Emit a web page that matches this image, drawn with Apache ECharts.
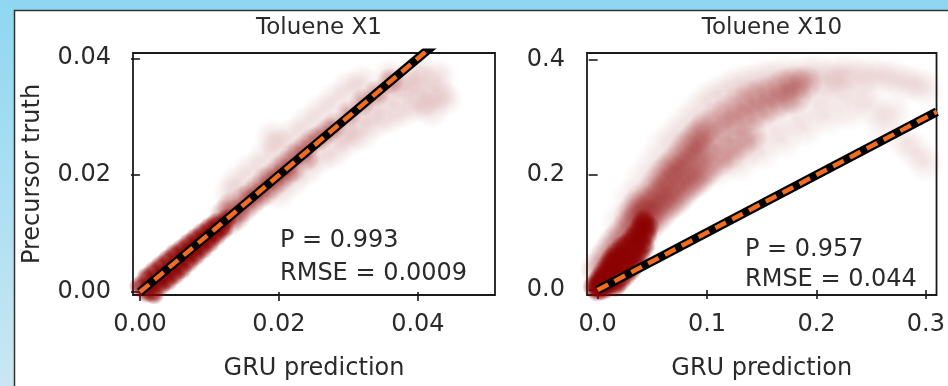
<!DOCTYPE html>
<html>
<head>
<meta charset="utf-8">
<script src="https://cdn.jsdelivr.net/npm/echarts@6/dist/echarts.min.js"></script>
<style>
  html, body { margin: 0; padding: 0; background: #fff; }
  #chart { width: 948px; height: 386px; }
</style>
</head>
<body>
<div id="chart"></div>
<script>
// panel titles and stats
const titles = ['Toluene X1', 'Toluene X10'];
const statP = ['P = 0.993', 'P = 0.957'];
const statRmse = ['RMSE = 0.0009', 'RMSE = 0.044'];

// tick labels
const x1Ticks = [0, 0.02, 0.04];
const y1Ticks = [0, 0.02, 0.04];
const x10Ticks = [0, 0.1, 0.2, 0.3];
const y10Ticks = [0, 0.2, 0.4];

// 1:1 reference lines
const x1Ref = [[0, 0], [0.05, 0.05]];
const x10Ref = [[0, 0], [0.31, 0.31]];

// Toluene X1 point cloud (prediction, truth), by density
const x1Core = [
  [0, -0.001], [0, 0.001], [0.001, 0.0025], [0.001, 0], [0.0015, 0.0012], [0.002, -0.0003],
  [0.002, 0.0035], [0.0025, 0.002], [0.003, 0.0012], [0.003, 0.0045], [0.0035, 0.003],
  [0.004, 0.002], [0.004, 0.0055], [0.0045, 0.004], [0.005, 0.003], [0.005, 0.0065],
  [0.0055, 0.005], [0.006, 0.004], [0.006, 0.0073], [0.0065, 0.0062], [0.007, 0.0052],
  [0.007, 0.0083], [0.0075, 0.0072], [0.008, 0.0063], [0.008, 0.0092], [0.0085, 0.0082],
  [0.009, 0.0074], [0.009, 0.0101], [0.0095, 0.0092], [0.010, 0.0085], [0.010, 0.011],
  [0.0105, 0.0102], [0.011, 0.0097], [0.011, 0.0118], [0.0115, 0.0112], [0.012, 0.0108],
  [0.0125, 0.0125]
];
const x1Mid = [
  [0.012, 0.0135], [0.013, 0.012], [0.013, 0.0148], [0.014, 0.0138], [0.014, 0.0128],
  [0.015, 0.016], [0.015, 0.0142], [0.016, 0.0168], [0.016, 0.0152], [0.017, 0.0178],
  [0.017, 0.0162], [0.018, 0.0192], [0.018, 0.017], [0.019, 0.0198], [0.019, 0.0182],
  [0.020, 0.021], [0.020, 0.0192], [0.021, 0.022], [0.021, 0.0202], [0.022, 0.0232],
  [0.022, 0.021], [0.023, 0.024], [0.024, 0.025], [0.024, 0.023], [0.025, 0.026],
  [0.026, 0.0265], [0.027, 0.0275], [0.028, 0.0285], [0.030, 0.0305], [0.032, 0.0325],
  [0.034, 0.034], [0.036, 0.036]
];
const x1Faint = [
  [0.013, 0.017], [0.014, 0.019], [0.016, 0.021], [0.018, 0.023], [0.019, 0.0265],
  [0.020, 0.025], [0.022, 0.027], [0.024, 0.029], [0.026, 0.031], [0.028, 0.033],
  [0.030, 0.035], [0.032, 0.036], [0.020, 0.017], [0.022, 0.019], [0.024, 0.021],
  [0.026, 0.023], [0.028, 0.024], [0.029, 0.027], [0.030, 0.026], [0.031, 0.029],
  [0.032, 0.027], [0.033, 0.031], [0.034, 0.029], [0.035, 0.033], [0.036, 0.030],
  [0.037, 0.034], [0.038, 0.031], [0.038, 0.036], [0.039, 0.035], [0.040, 0.032],
  [0.040, 0.038], [0.041, 0.036], [0.042, 0.031], [0.043, 0.037], [0.043, 0.034],
  [0.044, 0.033], [0.036, 0.037], [0.041, 0.033]
];

// Toluene X10 point cloud (prediction, truth), by density
const x10Core = [
  [0, 0], [-0.003, 0.006], [0, 0.014], [0.002, 0.008], [0.003, 0.022], [0.004, 0.002],
  [0.005, 0.015], [0.006, 0.032], [0.008, 0.006], [0.008, 0.024], [0.010, 0.012],
  [0.010, 0.044], [0.012, 0.034], [0.013, 0.054], [0.014, 0.020], [0.015, 0.045],
  [0.016, 0.008], [0.017, 0.064], [0.018, 0.030], [0.020, 0.055], [0.020, 0.016],
  [0.022, 0.040], [0.023, 0.075], [0.024, 0.062], [0.025, 0.026], [0.027, 0.050],
  [0.028, 0.080], [0.030, 0.036], [0.031, 0.062], [0.032, 0.090], [0.034, 0.050],
  [0.035, 0.075], [0.036, 0.100], [0.038, 0.062], [0.039, 0.088], [0.040, 0.110],
  [0.042, 0.076], [0.042, 0.120], [0.044, 0.096], [0.046, 0.110]
];
const x10Mid = [
  [0.000, 0.035], [0.005, 0.050], [0.010, 0.065], [0.015, 0.080], [0.020, 0.090],
  [0.025, 0.100], [0.030, 0.112], [0.030, 0.128], [0.035, 0.120], [0.035, 0.142],
  [0.040, 0.090], [0.040, 0.135], [0.040, 0.155],
  [0.045, 0.110], [0.045, 0.130], [0.045, 0.150],
  [0.050, 0.120], [0.050, 0.145], [0.050, 0.170],
  [0.055, 0.130], [0.055, 0.160], [0.055, 0.185],
  [0.060, 0.140], [0.060, 0.170], [0.060, 0.200],
  [0.065, 0.150], [0.065, 0.180], [0.065, 0.210],
  [0.070, 0.155], [0.070, 0.190], [0.070, 0.220],
  [0.075, 0.165], [0.075, 0.200], [0.075, 0.230],
  [0.080, 0.175], [0.080, 0.210], [0.080, 0.245],
  [0.085, 0.185], [0.085, 0.220], [0.085, 0.255],
  [0.090, 0.190], [0.090, 0.230], [0.090, 0.265],
  [0.095, 0.200], [0.095, 0.240], [0.095, 0.275],
  [0.100, 0.210], [0.100, 0.250], [0.100, 0.285],
  [0.110, 0.225], [0.110, 0.265], [0.110, 0.300],
  [0.120, 0.240], [0.120, 0.280], [0.120, 0.310],
  [0.130, 0.255], [0.130, 0.295], [0.130, 0.325],
  [0.140, 0.270], [0.140, 0.305], [0.140, 0.335],
  [0.150, 0.310], [0.150, 0.340], [0.160, 0.320], [0.160, 0.345],
  [0.170, 0.330], [0.170, 0.355], [0.180, 0.335], [0.180, 0.360], [0.190, 0.360]
];
const x10Faint = [
  [0.02, 0.12], [0.03, 0.16], [0.04, 0.19], [0.05, 0.22], [0.06, 0.25], [0.07, 0.27],
  [0.08, 0.29], [0.09, 0.31], [0.10, 0.33], [0.11, 0.34], [0.12, 0.35], [0.13, 0.36],
  [0.14, 0.36], [0.15, 0.37], [0.16, 0.37], [0.17, 0.375], [0.18, 0.37], [0.19, 0.375],
  [0.20, 0.38], [0.21, 0.37], [0.22, 0.375], [0.23, 0.38], [0.24, 0.37], [0.25, 0.375],
  [0.26, 0.37], [0.27, 0.37], [0.28, 0.36], [0.29, 0.36], [0.30, 0.35],
  [0.11, 0.21], [0.12, 0.23], [0.13, 0.22], [0.14, 0.25], [0.15, 0.24], [0.16, 0.28],
  [0.17, 0.26], [0.18, 0.30], [0.19, 0.28], [0.20, 0.32], [0.21, 0.30], [0.22, 0.34],
  [0.23, 0.31], [0.24, 0.34], [0.25, 0.32], [0.26, 0.29], [0.27, 0.31], [0.28, 0.26],
  [0.29, 0.24], [0.30, 0.22], [0.22, 0.36], [0.20, 0.35], [0.18, 0.34]
];

const font = 'DejaVu Sans';
const ink = '#2a2a2a';
const orange = '#f26d1f';

const chart = echarts.init(document.getElementById('chart'));

const xAxis = (min, max, ticks, digits, name) => ({
  type: 'value',
  min, max,
  name,
  nameLocation: 'middle',
  nameGap: 62,
  nameTextStyle: { color: ink, fontSize: 24, fontFamily: font },
  axisLine: { show: false },
  axisTick: { show: true, customValues: ticks, length: 9, lineStyle: { color: '#1a1a1a', width: 1.6 } },
  axisLabel: {
    customValues: ticks, margin: 18, color: ink, fontSize: 24, fontFamily: font,
    formatter: v => v.toFixed(digits)
  },
  splitLine: { show: false }
});

const yAxis = (min, max, ticks, digits, name) => ({
  type: 'value',
  min, max,
  name,
  nameLocation: 'middle',
  nameGap: 88,
  nameTextStyle: { color: ink, fontSize: 24, fontFamily: font },
  axisLine: { show: false },
  axisTick: { show: true, customValues: ticks, length: 9, lineStyle: { color: '#1a1a1a', width: 1.6 } },
  axisLabel: {
    customValues: ticks, margin: 22, color: ink, fontSize: 24, fontFamily: font,
    formatter: v => v.toFixed(digits)
  },
  splitLine: { show: false }
});

// soft dark-red blob, so overlapping points read as a density cloud
const blob = (alpha, solid) => new echarts.graphic.RadialGradient(0.5, 0.5, 0.5, [
  { offset: 0, color: `rgba(139,0,0,${alpha})` },
  { offset: solid, color: `rgba(139,0,0,${alpha * 0.85})` },
  { offset: 1, color: 'rgba(139,0,0,0)' }
]);

const cloud = (data, idx, size, alpha, solid) => ({
  type: 'scatter',
  xAxisIndex: idx, yAxisIndex: idx,
  data,
  symbolSize: size,
  silent: true,
  z: 2,
  itemStyle: { color: blob(alpha, solid) }
});

const refLines = (data, idx) => ([
  {
    type: 'line', xAxisIndex: idx, yAxisIndex: idx, data,
    showSymbol: false, silent: true, z: 5,
    lineStyle: { color: '#000', width: 9 }
  },
  {
    type: 'line', xAxisIndex: idx, yAxisIndex: idx, data,
    showSymbol: false, silent: true, z: 6,
    lineStyle: { color: orange, width: 4.5, type: [12, 7] }
  }
]);

const statText = (x, y, text) => ({
  type: 'text', x, y,
  style: { text, font: '24px "DejaVu Sans"', fill: ink, verticalAlign: 'middle' }
});

const option = {
  backgroundColor: '#ffffff',
  animation: false,
  title: [
    { text: titles[0], left: 314, top: 12, textAlign: 'center',
      textStyle: { color: ink, fontSize: 23, fontWeight: 'normal', fontFamily: font } },
    { text: titles[1], left: 767, top: 12, textAlign: 'center',
      textStyle: { color: ink, fontSize: 23, fontWeight: 'normal', fontFamily: font } }
  ],
  grid: [
    { left: 133, top: 53, width: 362, height: 242, show: true, borderColor: '#1a1a1a', borderWidth: 1.8, backgroundColor: 'transparent' },
    { left: 587, top: 53, width: 360, height: 242, show: true, borderColor: '#1a1a1a', borderWidth: 1.8, backgroundColor: 'transparent' }
  ],
  xAxis: [
    Object.assign(xAxis(-0.001, 0.0511, x1Ticks, 2, 'GRU prediction'), { gridIndex: 0 }),
    Object.assign(xAxis(-0.0097, 0.3097, x10Ticks, 1, 'GRU prediction'), { gridIndex: 1 })
  ],
  yAxis: [
    Object.assign(yAxis(-0.0005, 0.0409, y1Ticks, 2, 'Precursor truth'), { gridIndex: 0 }),
    Object.assign(yAxis(-0.0087, 0.412, y10Ticks, 1, ''), { gridIndex: 1 })
  ],
  graphic: [
    // slide background showing round the figure
    {
      type: 'rect', shape: { x: 0, y: 0, width: 948, height: 10 }, silent: true,
      style: { fill: '#8fd7f1' }
    },
    {
      type: 'rect', shape: { x: 0, y: 0, width: 14, height: 386 }, silent: true,
      style: {
        fill: new echarts.graphic.LinearGradient(0, 0, 0, 1, [
          { offset: 0, color: '#8fd7f1' },
          { offset: 1, color: '#c9e7f2' }
        ])
      }
    },
    {
      type: 'polyline', shape: { points: [[14.5, 386], [14.5, 10.5], [948, 10.5]] }, silent: true,
      style: { stroke: '#333', lineWidth: 1.5, fill: null }
    },
    statText(280, 241, statP[0]),
    statText(280, 274, statRmse[0]),
    statText(745, 250, statP[1]),
    statText(745, 280, statRmse[1])
  ],
  series: [
    cloud(x1Faint, 0, 36, 0.15, 0.2),
    cloud(x1Mid, 0, 28, 0.45, 0.3),
    cloud(x1Core, 0, 22, 0.95, 0.5),
    cloud(x10Faint, 1, 40, 0.11, 0.2),
    cloud(x10Mid, 1, 36, 0.32, 0.3),
    cloud(x10Core, 1, 24, 0.95, 0.5),
    ...refLines(x1Ref, 0),
    ...refLines(x10Ref, 1)
  ]
};

chart.setOption(option);
</script>
</body>
</html>
